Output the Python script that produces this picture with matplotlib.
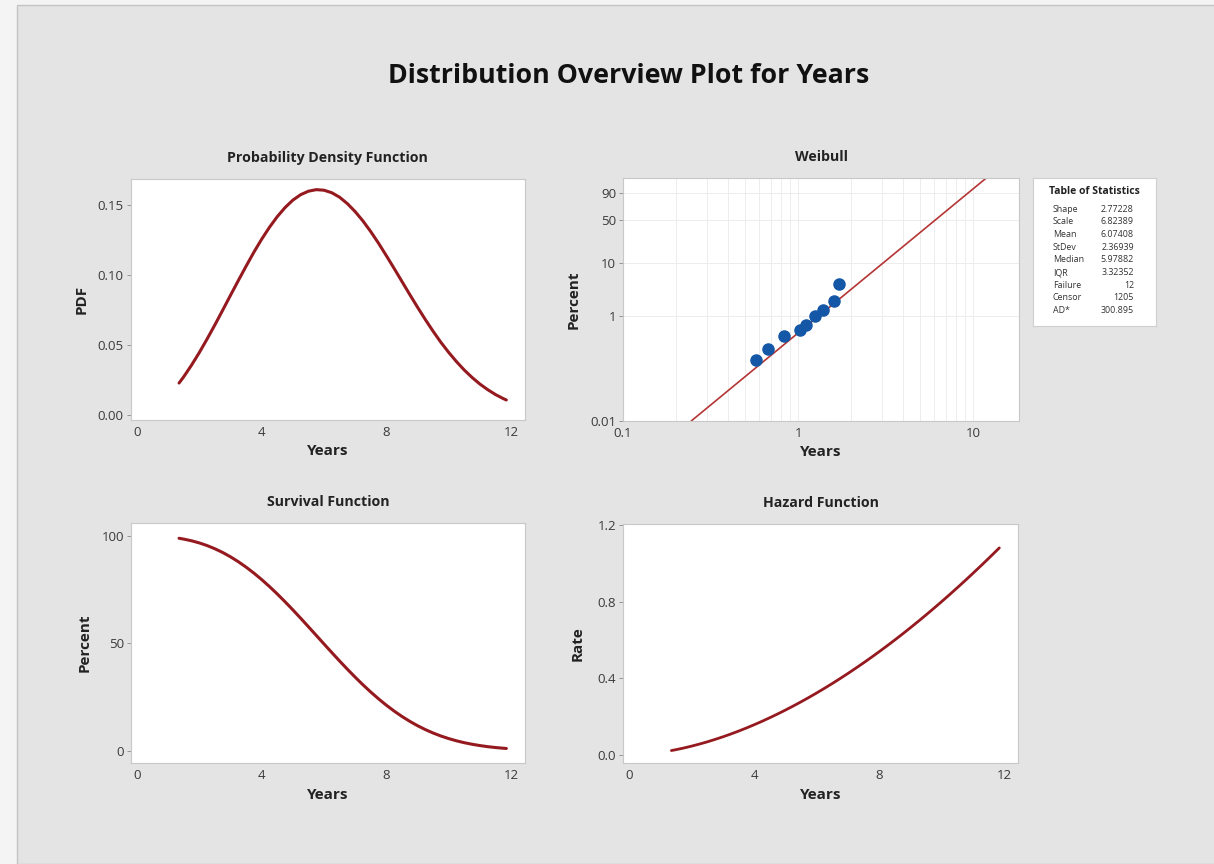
import matplotlib.pyplot as plt
import numpy as np
from matplotlib.patches import Rectangle

plt.rcParams['font.family'] = ['Open Sans', 'DejaVu Sans']

# fitted curves
years = [1.35, 1.5, 1.75, 2, 2.25, 2.5, 2.75, 3, 3.25, 3.5, 3.75, 4, 4.25,
         4.5, 4.75, 5, 5.25, 5.5, 5.75, 6, 6.25, 6.5, 6.75, 7, 7.25, 7.5,
         7.75, 8, 8.25, 8.5, 8.75, 9, 9.25, 9.5, 9.75, 10, 10.25, 10.5,
         10.75, 11, 11.25, 11.5, 11.75, 11.85]
pdf = [0.0228, 0.0273, 0.0356, 0.0446, 0.0543, 0.0644, 0.0749, 0.0855,
       0.0960, 0.1063, 0.1163, 0.1256, 0.1341, 0.1417, 0.1482, 0.1535,
       0.1574, 0.1599, 0.1610, 0.1606, 0.1588, 0.1556, 0.1510, 0.1453,
       0.1386, 0.1310, 0.1227, 0.1138, 0.1047, 0.0954, 0.0861, 0.0770,
       0.0682, 0.0598, 0.0519, 0.0447, 0.0381, 0.0321, 0.0268, 0.0221,
       0.0181, 0.0146, 0.0117, 0.0107]
survival = [98.89, 98.51, 97.73, 96.73, 95.49, 94.01, 92.27, 90.26, 87.99,
            85.46, 82.68, 79.66, 76.41, 72.96, 69.33, 65.56, 61.67, 57.69,
            53.68, 49.66, 45.67, 41.73, 37.90, 34.19, 30.64, 27.27, 24.10,
            21.14, 18.41, 15.91, 13.64, 11.60, 9.79, 8.19, 6.79, 5.59, 4.55,
            3.68, 2.95, 2.34, 1.83, 1.43, 1.10, 0.99]
hazard = [0.0230, 0.0277, 0.0364, 0.0462, 0.0569, 0.0685, 0.0812, 0.0947,
          0.1091, 0.1244, 0.1406, 0.1577, 0.1755, 0.1943, 0.2138, 0.2341,
          0.2553, 0.2772, 0.2999, 0.3234, 0.3477, 0.3727, 0.3985, 0.4250,
          0.4523, 0.4803, 0.5091, 0.5385, 0.5687, 0.5996, 0.6312, 0.6635,
          0.6965, 0.7303, 0.7647, 0.7997, 0.8355, 0.8720, 0.9091, 0.9469,
          0.9854, 1.0245, 1.0643, 1.0804]

# Weibull probability plot
fail_years = [0.573, 0.671, 0.832, 1.027, 1.111, 1.256, 1.384, 1.606, 1.708]
fail_pct = [0.149, 0.239, 0.417, 0.542, 0.697, 1.0, 1.31, 1.95, 4.06]
fit_years = [0.246, 11.9]
fit_pct = [0.01, 98.9]

stat_names = ['Shape', 'Scale', 'Mean', 'StDev', 'Median', 'IQR',
              'Failure', 'Censor', 'AD*']
stat_values = ['2.77228', '6.82389', '6.07408', '2.36939', '5.97882',
               '3.32352', '12', '1205', '300.895']

curve_col = '#951a20'
tick_col = '#3a3a3a'

fig = plt.figure(figsize=(12.14, 8.64), dpi=100)
fig.patch.set_facecolor('#f4f4f4')
fig.patches.append(Rectangle((17 / 1214, 0), 1, 1 - 5 / 864,
                             transform=fig.transFigure, facecolor='#e4e4e4',
                             edgecolor='#c4c4c4', linewidth=1, zorder=-5))

fig.text(0.518, 0.912, 'Distribution Overview Plot for Years',
         ha='center', va='center', fontsize=19.3, fontweight='bold',
         color='#111111')


def style(ax, title, ylabel, ylx, xly):
    ax.set_facecolor('white')
    for s in ax.spines.values():
        s.set_color('#c8c8c8')
        s.set_linewidth(0.8)
    ax.set_title(title, fontsize=10.2, fontweight='bold', pad=12.5,
                 color='#222222')
    ax.set_xlabel('Years', fontsize=11, fontweight='bold', color='#222222')
    ax.set_ylabel(ylabel, fontsize=11, fontweight='bold', color='#222222')
    ax.xaxis.set_label_coords(0.5, xly)
    ax.yaxis.set_label_coords(ylx, 0.5)
    ax.tick_params(axis='y', length=3, width=0.6, color='#888888',
                   labelsize=9.5, labelcolor=tick_col, pad=2)
    ax.tick_params(axis='x', length=0, labelsize=9.5, labelcolor=tick_col,
                   pad=4)


# PDF
ax1 = fig.add_axes([0.1077, 0.5139, 0.3248, 0.2789])
ax1.plot(years, pdf, color=curve_col, lw=2.2, solid_capstyle='round')
ax1.set_xlim(-0.2, 12.45)
ax1.set_ylim(-0.0036, 0.1686)
ax1.set_xticks([0, 4, 8, 12])
ax1.set_yticks([0, 0.05, 0.10, 0.15])
ax1.set_yticklabels(['0.00', '0.05', '0.10', '0.15'])
style(ax1, 'Probability Density Function', 'PDF', -0.106, -0.10)

# Weibull
ax2 = fig.add_axes([0.5132, 0.5127, 0.3262, 0.2813])


def fwd(p):
    p = np.clip(np.asarray(p, dtype=float), 1e-9, 100 - 1e-9)
    return np.log(-np.log(1 - p / 100))


def inv(y):
    return 100 * (1 - np.exp(-np.exp(y)))


ax2.set_yscale('function', functions=(fwd, inv))
ax2.set_xscale('log')
ax2.set_xlim(0.1, 18.3)
ax2.set_ylim(0.0099, 98.9)
ax2.grid(True, which='both', axis='x', color='#ededed', lw=0.7)
ax2.set_yticks([0.01, 1, 10, 50, 90])
ax2.set_yticklabels(['0.01', '1', '10', '50', '90'])
ax2.yaxis.set_minor_locator(plt.NullLocator())
ax2.grid(True, which='major', axis='y', color='#ededed', lw=0.7)
ax2.set_xticks([0.1, 1, 10])
ax2.set_xticklabels(['0.1', '1', '10'])
ax2.tick_params(axis='x', which='minor', length=0)
ax2.set_axisbelow(True)
ax2.plot(fit_years, fit_pct, color='#b53535', lw=1.2)
ax2.plot(fail_years, fail_pct, 'o', color='#1357a6', ms=8, mec='#1357a6')
style(ax2, 'Weibull', 'Percent', -0.107, -0.10)

# Table of Statistics
axt = fig.add_axes([0.8509, 0.6227, 0.1013, 0.1713])
axt.set_xticks([])
axt.set_yticks([])
axt.set_facecolor('white')
for s in axt.spines.values():
    s.set_color('#cfcfcf')
    s.set_linewidth(0.8)
axt.set_xlim(1033, 1156)
axt.set_ylim(326, 178)
axt.text(1094, 192, 'Table of Statistics', ha='center', va='center',
         fontsize=7.5, fontweight='bold', color='#222222')
for i, (n, v) in enumerate(zip(stat_names, stat_values)):
    yy = 209.3 + i * 12.67
    axt.text(1053, yy, n, ha='left', va='center', fontsize=6.4,
             color='#333333')
    axt.text(1134, yy, v, ha='right', va='center', fontsize=6.4,
             color='#333333')

# Survival
ax3 = fig.add_axes([0.1077, 0.1166, 0.3248, 0.2778])
ax3.plot(years, survival, color=curve_col, lw=2.2, solid_capstyle='round')
ax3.set_xlim(-0.2, 12.45)
ax3.set_ylim(-5.9, 105.9)
ax3.set_xticks([0, 4, 8, 12])
ax3.set_yticks([0, 50, 100])
style(ax3, 'Survival Function', 'Percent', -0.098, -0.105)

# Hazard
ax4 = fig.add_axes([0.5132, 0.1169, 0.3254, 0.2766])
ax4.plot(years, hazard, color=curve_col, lw=2.0, solid_capstyle='round')
ax4.set_xlim(-0.2, 12.45)
ax4.set_ylim(-0.042, 1.205)
ax4.set_xticks([0, 4, 8, 12])
ax4.set_yticks([0, 0.4, 0.8, 1.2])
ax4.set_yticklabels(['0.0', '0.4', '0.8', '1.2'])
style(ax4, 'Hazard Function', 'Rate', -0.098, -0.105)

fig.savefig('out.png', dpi=100, facecolor=fig.get_facecolor())
